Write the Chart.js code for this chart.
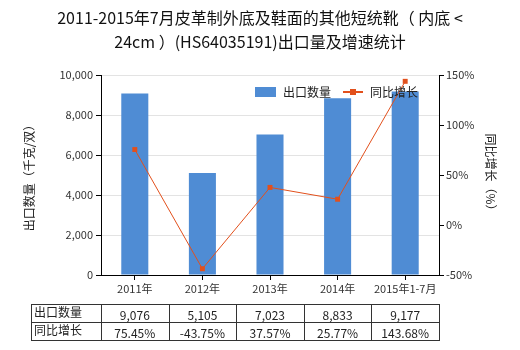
<!DOCTYPE html>
<html>
<head>
<meta charset="utf-8">
<script src="https://cdn.jsdelivr.net/npm/chart.js@4"></script>
<style>
  html, body { margin: 0; padding: 0; background: #fff; }
  #wrap { width: 520px; height: 350px; }
</style>
</head>
<body>
<div id="wrap"><canvas id="chart" width="520" height="350"></canvas></div>
<script>
// export quantity (thousand pairs) and year-on-year growth (%)
var categories = ['2011年', '2012年', '2013年', '2014年', '2015年1-7月'];
var exportQty = [9076, 5105, 7023, 8833, 9177];
var yoyGrowth = [75.45, -43.75, 37.57, 25.77, 143.68];
var seriesNames = ['出口数量', '同比增长'];

var FONT = '"Noto Sans CJK SC", "Microsoft YaHei", sans-serif';
var BAR_COLOR = '#4f8cd4';
var LINE_COLOR = '#e2501c';

function fmtQty(v) { return v.toLocaleString('en-US'); }
function fmtPct(v) { return v.toFixed(2) + '%'; }

// legend drawn inside the plot, top right
var legendPlugin = {
    id: 'innerLegend',
    afterDraw: function(chart) {
        var ctx = chart.ctx;
        var y = 92;
        ctx.save();
        ctx.font = '12px ' + FONT;
        ctx.textBaseline = 'middle';
        ctx.fillStyle = BAR_COLOR;
        ctx.fillRect(255, y - 5, 21, 10);
        ctx.fillStyle = '#222';
        ctx.fillText(seriesNames[0], 283, y);
        ctx.strokeStyle = LINE_COLOR;
        ctx.lineWidth = 2;
        ctx.beginPath();
        ctx.moveTo(343, y);
        ctx.lineTo(363, y);
        ctx.stroke();
        ctx.fillStyle = LINE_COLOR;
        ctx.fillRect(350, y - 3, 6, 6);
        ctx.fillStyle = '#222';
        ctx.fillText(seriesNames[1], 370, y);
        ctx.restore();
    }
};

// data table under the x axis, columns follow the category scale
var tablePlugin = {
    id: 'dataTable',
    afterDraw: function(chart) {
        var ctx = chart.ctx;
        var xs = chart.scales.x;
        var top = 304, mid = 322, bottom = 340, left = 31;
        var n = categories.length;
        var half = (xs.getPixelForValue(1) - xs.getPixelForValue(0)) / 2;
        var edges = [left];
        for (var i = 0; i < n; i++) edges.push(xs.getPixelForValue(i) - half);
        edges.push(xs.getPixelForValue(n - 1) + half);
        var right = edges[edges.length - 1];

        ctx.save();
        ctx.strokeStyle = '#333';
        ctx.lineWidth = 1;
        ctx.beginPath();
        [top, mid, bottom].forEach(function(y) {
            ctx.moveTo(left, y + 0.5);
            ctx.lineTo(right, y + 0.5);
        });
        edges.forEach(function(x) {
            var px = Math.round(x) + 0.5;
            ctx.moveTo(px, top);
            ctx.lineTo(px, bottom + 1);
        });
        ctx.stroke();

        ctx.font = '12px ' + FONT;
        ctx.fillStyle = '#222';
        ctx.textBaseline = 'middle';
        ctx.textAlign = 'left';
        ctx.fillText(seriesNames[0], left + 3, (top + mid) / 2 - 1);
        ctx.fillText(seriesNames[1], left + 3, (mid + bottom) / 2 - 1);
        ctx.textAlign = 'center';
        for (var j = 0; j < n; j++) {
            var cx = xs.getPixelForValue(j);
            ctx.fillText(fmtQty(exportQty[j]), cx, (top + mid) / 2 + 2);
            ctx.fillText(fmtPct(yoyGrowth[j]), cx, (mid + bottom) / 2 + 2);
        }
        ctx.restore();
    }
};

Chart.defaults.font.family = FONT;
Chart.defaults.color = '#333';

new Chart(document.getElementById('chart'), {
    data: {
        labels: categories,
        datasets: [
            {
                type: 'line',
                label: seriesNames[1],
                data: yoyGrowth,
                yAxisID: 'y1',
                borderColor: LINE_COLOR,
                backgroundColor: LINE_COLOR,
                borderWidth: 1,
                pointStyle: 'rect',
                pointRadius: 3.5,
                pointBorderWidth: 0,
                tension: 0,
                order: 0
            },
            {
                type: 'bar',
                label: seriesNames[0],
                data: exportQty,
                yAxisID: 'y',
                backgroundColor: BAR_COLOR,
                barPercentage: 0.4,
                categoryPercentage: 1,
                order: 1
            }
        ]
    },
    options: {
        responsive: false,
        animation: false,
        layout: { padding: { left: 0, right: 0, top: 0, bottom: 50 } },
        plugins: {
            legend: { display: false },
            tooltip: { enabled: false },
            title: {
                display: true,
                text: ['2011-2015年7月皮革制外底及鞋面的其他短统靴（ 内底 <', '24cm ）(HS64035191)出口量及增速统计'],
                color: '#111',
                font: { size: 16, weight: 'normal', lineHeight: 1.5 },
                padding: { top: 6, bottom: 21 }
            }
        },
        scales: {
            x: {
                grid: { display: true, drawOnChartArea: false, offset: false, tickLength: 5, tickColor: '#000' },
                border: { color: '#000' },
                ticks: { font: { size: 11 }, padding: 2, maxRotation: 0 },
                afterFit: function(s) { s.height = 25; }
            },
            y: {
                position: 'left',
                min: 0,
                max: 10000,
                ticks: {
                    stepSize: 2000,
                    font: { size: 11 },
                    padding: 3,
                    callback: function(v) { return fmtQty(v); }
                },
                grid: { color: '#e3e3e3', tickLength: 5, tickColor: '#000' },
                border: { color: '#000' },
                title: {
                    display: true,
                    text: '出口数量（千克/双）',
                    font: { size: 12 },
                    color: '#222',
                    padding: { top: 22, bottom: 0 }
                },
                afterFit: function(s) { s.width = 101; }
            },
            y1: {
                position: 'right',
                min: -50,
                max: 150,
                ticks: {
                    stepSize: 50,
                    font: { size: 11 },
                    padding: 2,
                    callback: function(v) { return v + '%'; }
                },
                grid: { drawOnChartArea: false, tickLength: 5, tickColor: '#000' },
                border: { color: '#000' },
                title: {
                    display: true,
                    text: '同比增长（%）',
                    font: { size: 12 },
                    color: '#222',
                    padding: { top: 22, bottom: 0 }
                },
                afterFit: function(s) { s.width = 81; }
            }
        }
    },
    plugins: [legendPlugin, tablePlugin]
});
</script>
</body>
</html>
